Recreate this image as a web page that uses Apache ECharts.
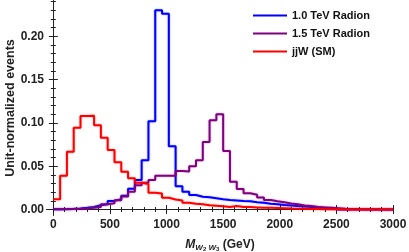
<!DOCTYPE html>
<html><head><meta charset="utf-8">
<script src="https://cdn.jsdelivr.net/npm/echarts@6/dist/echarts.min.js"></script>
<style>html,body{margin:0;padding:0;background:#fff}#c{width:409px;height:252px}</style>
</head><body><div id="c"></div>
<script>
// Histogram bins: 60 GeV wide, starting at 0
var binWidth = 60;
var radion10 = [0.0003,0.0005,0.0008,0.0012,0.002,0.003,0.005,0.006,0.010,0.012,
                0.016,0.024,0.034,0.057,0.102,0.230,0.226,0.073,0.027,0.0205,
                0.0167,0.0148,0.0142,0.013,0.0118,0.011,0.0105,0.0098,0.0095,0.0085,
                0.0078,0.0068,0.006,0.0052,0.0046,0.004,0.0035,0.003,0.0025,0.0018,
                0.0012,0,0,0,0,0,0,0,0,0];
var radion15 = [0.0002,0.0003,0.0005,0.0008,0.0012,0.002,0.003,0.006,0.0073,0.0107,
                0.0150,0.0206,0.028,0.031,0.034,0.039,0.039,0.039,0.0445,0.044,
                0.050,0.057,0.078,0.103,0.110,0.0675,0.032,0.0237,0.0187,0.017,
                0.014,0.011,0.0096,0.0085,0.007,0.006,0.0048,0.004,0.003,0.0025,
                0.002,0.0015,0.001,0.0007,0.0005,0.0004,0.0003,0.0002,0.0001,0];
var jjW      = [0.0118,0.039,0.0668,0.0945,0.108,0.1083,0.0972,0.083,0.0687,0.0545,
                0.0437,0.036,0.031,0.0294,0.0194,0.0185,0.0137,0.0115,0.0104,0.0078,
                0.0068,0.006,0.005,0.0045,0.0038,0.0030,0.0042,0.003,0.0028,0.0025,
                0.0022,0.002,0.0018,0.0015,0.0012,0.001,0.0008,0.0006,0.0005,0.0004,
                0.0003,0.0002,0.0001,0.0001,0.0001,0.0001,0,0,0,0];
var seriesNames = ['1.0 TeV Radion','1.5 TeV Radion','jjW (SM)'];
var seriesColors = ['#0000ff','#800080','#ff0000'];
var xMajor = [0,500,1000,1500,2000,2500,3000];
var yMajor = [0,0.05,0.10,0.15,0.20];

function minors(a, b, step){ var r=[]; for (var v=a; v<=b+1e-9; v+=step) r.push(+v.toFixed(4)); return r; }
var xMinor = minors(0,3000,100);
var yMinor = minors(0,0.24,0.01);

function toSteps(vals){
  var pts = vals.map(function(v,i){ return [i*binWidth, v]; });
  pts.push([vals.length*binWidth, vals[vals.length-1]]);
  return pts;
}
var FONT = 'Liberation Sans';
var XMIN=-56, XMAX=3000, YMIN=-0.0063, YMAX=0.2408;
var axisLine = {show:true, lineStyle:{color:'#222', width:1}};
function xAx(pos, vals, len, label, extra){
  var o = {type:'value', min:XMIN, max:XMAX, position:pos,
    axisLine: axisLine, splitLine:{show:false},
    axisTick:{show:true, inside:true, length:len, customValues:vals, lineStyle:{color:'#222'}},
    axisLabel:{show:label, customValues:vals, color:'#222', fontFamily:FONT, fontWeight:'bold', fontSize:12, margin:4,
      formatter:function(v){return String(v);}}};
  return Object.assign(o, extra||{});
}
function yAx(pos, vals, len, label, extra){
  var o = {type:'value', min:YMIN, max:YMAX, position:pos,
    axisLine: axisLine, splitLine:{show:false},
    axisTick:{show:true, inside:true, length:len, customValues:vals, lineStyle:{color:'#222'}},
    axisLabel:{show:label, customValues:vals, color:'#222', fontFamily:FONT, fontWeight:'bold', fontSize:12, margin:3,
      formatter:function(v){return v.toFixed(2);}}};
  return Object.assign(o, extra||{});
}
var chart = echarts.init(document.getElementById('c'), null, {renderer:'canvas'});
var series = [radion10, radion15, jjW].map(function(vals, k){
  return {name: seriesNames[k], type:'line', step:'end', xAxisIndex:0, yAxisIndex:0,
    data: toSteps(vals), showSymbol:false, symbol:'none', animation:false,
    lineStyle:{color:seriesColors[k], width:2, shadowBlur:2, shadowColor:seriesColors[k]+'66'},
    itemStyle:{color:seriesColors[k]}, z: 2+k};
});
chart.setOption({
  animation:false,
  grid:{left:47, right:16, top:1, bottom:37, containLabel:false, outerBoundsMode:'none'},
  legend:{orient:'vertical', left:253, top:9, padding:0, itemGap:5, icon:'rect', itemWidth:34, itemHeight:2,
    data:seriesNames, textStyle:{fontFamily:FONT, fontWeight:'bold', fontSize:11, color:'#111', lineHeight:13}},
  xAxis:[
    xAx('bottom', xMajor, 4.5, true, {name:'{m|M}{s|W}{ss|2}{s| W}{ss|3}{g| (GeV)}', nameLocation:'middle', nameGap:22,
      nameMoveOverlap:false,
      nameTextStyle:{rich:{
        m:{fontFamily:FONT, fontStyle:'italic', fontWeight:'bold', fontSize:12, color:'#222'},
        s:{fontFamily:FONT, fontStyle:'italic', fontWeight:'bold', fontSize:8, color:'#222', padding:[6,0,0,0]},
        ss:{fontFamily:FONT, fontWeight:'bold', fontSize:6, color:'#222', padding:[9,0,0,0]},
        g:{fontFamily:FONT, fontWeight:'bold', fontSize:12, color:'#222'}}}}),
    xAx('bottom', xMinor, 2.5, false),
    xAx('top', xMajor, 4.5, false),
    xAx('top', xMinor, 2.5, false)
  ],
  yAxis:[
    yAx('left', yMajor, 4.5, true, {name:'Unit-normalized events', nameLocation:'middle', nameGap:30,
      nameMoveOverlap:false,
      nameTextStyle:{fontFamily:FONT, fontWeight:'bold', fontSize:12.5, color:'#222'}}),
    yAx('left', yMinor, 2.5, false),
    yAx('right', yMajor, 4.5, false),
    yAx('right', yMinor, 2.5, false)
  ],
  series: series
});
</script></body></html>
